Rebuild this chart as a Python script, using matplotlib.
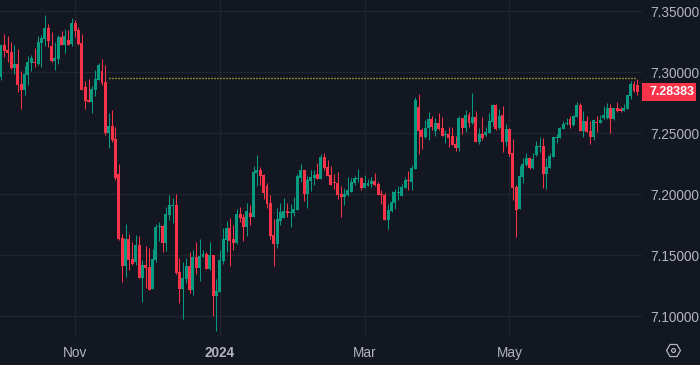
import matplotlib
matplotlib.use("Agg")
import matplotlib.pyplot as plt
from matplotlib.lines import Line2D
from matplotlib.patches import Rectangle

plt.rcParams['font.family'] = ['Liberation Sans', 'DejaVu Sans']

BG = "#131722"
GRID = "#20242e"
UP = "#089981"
DOWN = "#f7334a"
TEXT = "#b2b5be"

opens = [7.2962, 7.3224, 7.3183, 7.3167, 7.3036, 7.3069, 7.2905, 7.2856, 7.2979, 7.3077,
         7.3085, 7.3069, 7.3241, 7.3273, 7.3363, 7.3216, 7.3093, 7.3110, 7.3290, 7.3224,
         7.3265, 7.3232, 7.3404, 7.3347, 7.3241, 7.2880, 7.2774, 7.2757, 7.2856, 7.2938,
         7.3011, 7.2921, 7.2504, 7.2561, 7.2454, 7.2167, 7.1642, 7.1412, 7.1634, 7.1470,
         7.1445, 7.1584, 7.1314, 7.1420, 7.1404, 7.1224, 7.1461, 7.1732, 7.1740, 7.1601,
         7.1830, 7.1904, 7.1912, 7.1363, 7.1224, 7.1306, 7.1412, 7.1216, 7.1486, 7.1396,
         7.1486, 7.1511, 7.1388, 7.1502, 7.1166, 7.1199, 7.1453, 7.1625, 7.1724, 7.1634,
         7.1601, 7.1839, 7.1814, 7.1732, 7.1847, 7.1814, 7.2175, 7.2199, 7.2158, 7.2068,
         7.1929, 7.1666, 7.1593, 7.1781, 7.1806, 7.1863, 7.1847, 7.1847, 7.1871, 7.2134,
         7.2199, 7.2003, 7.2109, 7.2134, 7.2167, 7.2126, 7.2306, 7.2224, 7.2158, 7.2101,
         7.2093, 7.2003, 7.1978, 7.1994, 7.2019, 7.2093, 7.2126, 7.2134, 7.2052, 7.2068,
         7.2085, 7.2109, 7.2085, 7.2003, 7.1994, 7.1789, 7.1863, 7.1929, 7.2011, 7.1986,
         7.2052, 7.2117, 7.2101, 7.2207, 7.2716, 7.2527, 7.2470, 7.2544, 7.2617, 7.2519,
         7.2585, 7.2544, 7.2486, 7.2494, 7.2478, 7.2412, 7.2380, 7.2626, 7.2544, 7.2650,
         7.2585, 7.2634, 7.2429, 7.2494, 7.2486, 7.2503, 7.2593, 7.2732, 7.2544, 7.2650,
         7.2429, 7.2535, 7.2339, 7.2060, 7.1880, 7.2142, 7.2240, 7.2298, 7.2216, 7.2322,
         7.2388, 7.2396, 7.2166, 7.2216, 7.2306, 7.2462, 7.2462, 7.2535, 7.2576, 7.2617,
         7.2568, 7.2634, 7.2732, 7.2519, 7.2601, 7.2519, 7.2470, 7.2593, 7.2585, 7.2626,
         7.2626, 7.2708, 7.2617, 7.2708, 7.2699, 7.2683, 7.2699, 7.2806, 7.2904, 7.2896]
closes = [7.3224, 7.3178, 7.3161, 7.3036, 7.3069, 7.2897, 7.2856, 7.2987, 7.3085, 7.3118,
          7.3077, 7.3249, 7.3281, 7.3363, 7.3257, 7.3093, 7.3118, 7.3290, 7.3224, 7.3298,
          7.3224, 7.3404, 7.3339, 7.3232, 7.2856, 7.2766, 7.2757, 7.2864, 7.2946, 7.3060,
          7.2913, 7.2504, 7.2561, 7.2446, 7.2135, 7.1634, 7.1412, 7.1634, 7.1461, 7.1429,
          7.1584, 7.1314, 7.1420, 7.1396, 7.1216, 7.1470, 7.1732, 7.1738, 7.1601, 7.1839,
          7.1912, 7.1912, 7.1352, 7.1224, 7.1314, 7.1412, 7.1216, 7.1486, 7.1396, 7.1494,
          7.1511, 7.1388, 7.1502, 7.1166, 7.1207, 7.1461, 7.1634, 7.1724, 7.1617, 7.1601,
          7.1839, 7.1806, 7.1732, 7.1863, 7.1814, 7.2183, 7.2199, 7.2150, 7.2011, 7.1921,
          7.1658, 7.1593, 7.1798, 7.1855, 7.1863, 7.1847, 7.1855, 7.1880, 7.2150, 7.2199,
          7.2003, 7.2117, 7.2142, 7.2158, 7.2126, 7.2306, 7.2216, 7.2150, 7.2076, 7.2093,
          7.1994, 7.1978, 7.2003, 7.2035, 7.2101, 7.2134, 7.2134, 7.2052, 7.2093, 7.2093,
          7.2109, 7.2076, 7.1994, 7.1994, 7.1789, 7.1871, 7.1937, 7.2019, 7.2019, 7.2060,
          7.2117, 7.2109, 7.2216, 7.2773, 7.2519, 7.2470, 7.2544, 7.2617, 7.2552, 7.2585,
          7.2535, 7.2478, 7.2494, 7.2462, 7.2404, 7.2380, 7.2626, 7.2544, 7.2650, 7.2585,
          7.2634, 7.2429, 7.2494, 7.2462, 7.2511, 7.2601, 7.2732, 7.2535, 7.2642, 7.2429,
          7.2535, 7.2330, 7.2052, 7.1871, 7.2150, 7.2248, 7.2298, 7.2216, 7.2289, 7.2396,
          7.2396, 7.2166, 7.2224, 7.2314, 7.2470, 7.2470, 7.2544, 7.2576, 7.2585, 7.2568,
          7.2642, 7.2732, 7.2519, 7.2601, 7.2511, 7.2470, 7.2609, 7.2585, 7.2609, 7.2650,
          7.2708, 7.2617, 7.2708, 7.2683, 7.2683, 7.2708, 7.2814, 7.2904, 7.2847, 7.28383]
highs = [7.3232, 7.3314, 7.3298, 7.3249, 7.3224, 7.3191, 7.3011, 7.3052, 7.3134, 7.3142,
         7.3200, 7.3298, 7.3306, 7.3470, 7.3396, 7.3331, 7.3249, 7.3306, 7.3339, 7.3355,
         7.3347, 7.3445, 7.3429, 7.3372, 7.3314, 7.2929, 7.2946, 7.2888, 7.3019, 7.3077,
         7.3110, 7.3060, 7.2667, 7.2692, 7.2553, 7.2249, 7.1675, 7.1757, 7.1675, 7.1609,
         7.1666, 7.1658, 7.1461, 7.1576, 7.1560, 7.1552, 7.1757, 7.1773, 7.1748, 7.1896,
         7.1994, 7.1970, 7.2003, 7.1478, 7.1445, 7.1478, 7.1527, 7.1543, 7.1609, 7.1634,
         7.1543, 7.1527, 7.1609, 7.1502, 7.1306, 7.1543, 7.1724, 7.1781, 7.1806, 7.1748,
         7.1880, 7.1896, 7.1839, 7.1929, 7.1912, 7.2232, 7.2322, 7.2224, 7.2167, 7.2093,
         7.1994, 7.1798, 7.1888, 7.1929, 7.1970, 7.1929, 7.1921, 7.1978, 7.2167, 7.2249,
         7.2199, 7.2150, 7.2199, 7.2199, 7.2257, 7.2331, 7.2339, 7.2281, 7.2232, 7.2167,
         7.2183, 7.2068, 7.2052, 7.2142, 7.2134, 7.2150, 7.2208, 7.2142, 7.2158, 7.2126,
         7.2142, 7.2175, 7.2101, 7.2035, 7.2011, 7.1921, 7.2027, 7.2044, 7.2068, 7.2085,
         7.2142, 7.2191, 7.2240, 7.2798, 7.2822, 7.2544, 7.2609, 7.2675, 7.2642, 7.2626,
         7.2667, 7.2634, 7.2527, 7.2552, 7.2552, 7.2478, 7.2642, 7.2626, 7.2691, 7.2675,
         7.2831, 7.2683, 7.2544, 7.2634, 7.2552, 7.2667, 7.2740, 7.2740, 7.2699, 7.2724,
         7.2576, 7.2544, 7.2453, 7.2076, 7.2232, 7.2298, 7.2339, 7.2306, 7.2339, 7.2437,
         7.2470, 7.2462, 7.2298, 7.2339, 7.2470, 7.2494, 7.2552, 7.2601, 7.2626, 7.2642,
         7.2650, 7.2757, 7.2749, 7.2683, 7.2642, 7.2601, 7.2609, 7.2642, 7.2650, 7.2724,
         7.2749, 7.2740, 7.2708, 7.2757, 7.2716, 7.2740, 7.2814, 7.2929, 7.2929, 7.2945]
lows = [7.2938, 7.3129, 7.3088, 7.3028, 7.2987, 7.2842, 7.2700, 7.2815, 7.2897, 7.3011,
        7.3044, 7.3060, 7.3044, 7.3216, 7.3208, 7.3085, 7.3019, 7.3069, 7.3224, 7.3159,
        7.3224, 7.3216, 7.3290, 7.3224, 7.2856, 7.2700, 7.2757, 7.2667, 7.2807, 7.2938,
        7.2897, 7.2487, 7.2381, 7.2430, 7.2119, 7.1625, 7.1281, 7.1322, 7.1379, 7.1420,
        7.1420, 7.1314, 7.1117, 7.1232, 7.1216, 7.1224, 7.1445, 7.1617, 7.1527, 7.1535,
        7.1789, 7.1765, 7.1347, 7.1109, 7.0978, 7.1273, 7.1191, 7.1175, 7.1347, 7.1289,
        7.1486, 7.1388, 7.1379, 7.1002, 7.0879, 7.1199, 7.1429, 7.1527, 7.1412, 7.1543,
        7.1593, 7.1773, 7.1617, 7.1658, 7.1748, 7.1814, 7.2068, 7.2076, 7.1962, 7.1888,
        7.1634, 7.1412, 7.1560, 7.1748, 7.1806, 7.1814, 7.1732, 7.1822, 7.1871, 7.2101,
        7.1945, 7.1888, 7.2027, 7.2076, 7.2126, 7.2126, 7.2199, 7.2150, 7.2076, 7.2044,
        7.1962, 7.1814, 7.1912, 7.1986, 7.2019, 7.2076, 7.2101, 7.2035, 7.2052, 7.2068,
        7.2060, 7.2068, 7.1994, 7.1921, 7.1789, 7.1716, 7.1855, 7.1880, 7.1953, 7.1986,
        7.2052, 7.2035, 7.2035, 7.2207, 7.2330, 7.2371, 7.2462, 7.2445, 7.2527, 7.2478,
        7.2527, 7.2478, 7.2421, 7.2388, 7.2404, 7.2355, 7.2355, 7.2494, 7.2511, 7.2552,
        7.2576, 7.2429, 7.2412, 7.2445, 7.2478, 7.2503, 7.2560, 7.2527, 7.2535, 7.2347,
        7.2396, 7.2314, 7.1953, 7.1650, 7.1880, 7.2093, 7.2232, 7.2207, 7.2207, 7.2314,
        7.2347, 7.2052, 7.2043, 7.2216, 7.2306, 7.2421, 7.2462, 7.2535, 7.2568, 7.2544,
        7.2560, 7.2634, 7.2519, 7.2470, 7.2511, 7.2412, 7.2445, 7.2511, 7.2585, 7.2617,
        7.2617, 7.2503, 7.2609, 7.2675, 7.2675, 7.2683, 7.2699, 7.2781, 7.2839, 7.2814]

price_ticks = [7.10, 7.15, 7.20, 7.25, 7.30, 7.35]
date_ticks = [22, 65, 108, 151]
date_labels = ["Nov", "2024", "Mar", "May"]
last_high = 7.2950
last_high_from = 32
last_price = 7.28383

fig = plt.figure(figsize=(7, 3.65), dpi=100, facecolor=BG)
ax = fig.add_axes([0, 29 / 365, 642 / 700, 336 / 365], facecolor=BG)

# wicks first, bodies on top
xs = list(range(len(opens)))
colors = [UP if c >= o else DOWN for o, c in zip(opens, closes)]
ax.vlines(xs, lows, highs, colors=colors, linewidth=0.75, zorder=3)
ax.bar(xs, [abs(c - o) for o, c in zip(opens, closes)], bottom=[min(o, c) for o, c in zip(opens, closes)],
       width=0.88, color=colors, linewidth=0, zorder=4)

ax.plot([last_high_from, len(opens) - 1], [last_high, last_high], color="#f7f73a", linewidth=1,
        linestyle=(0, (0.72, 1.44)), zorder=2)

ax.set_xlim(-0.297, 190.38)
ax.set_ylim(7.08385, 7.3593)
ax.set_yticks(price_ticks)
ax.set_yticklabels(["%.5f" % p for p in price_ticks])
ax.yaxis.tick_right()
ax.set_xticks(date_ticks)
ax.set_xticklabels(date_labels)
ax.tick_params(axis="both", length=0, labelcolor=TEXT, labelsize=9.8)
ax.tick_params(axis="y", pad=6)
ax.tick_params(axis="x", pad=7)
ax.get_xticklabels()[1].set_fontweight("bold")
ax.grid(True, color=GRID, linewidth=1)
ax.set_axisbelow(True)
for s in ax.spines.values():
    s.set_visible(False)

# current price tag on the scale
tag_h = 0.0143
ax.add_patch(Rectangle((1.0, last_price - tag_h / 2), 54 / 642, tag_h, transform=ax.get_yaxis_transform(),
                       facecolor=DOWN, edgecolor="none", clip_on=False, zorder=5))
ax.text(1 + 8 / 642, last_price, "%.5f" % last_price, transform=ax.get_yaxis_transform(), color="white",
        fontsize=9, fontweight="bold", va="center", ha="left", zorder=6, clip_on=False)

# settings icon
fig.add_artist(Line2D([673 / 700], [1 - 350 / 365], transform=fig.transFigure, marker="H", markersize=10,
                      markerfacecolor="none", markeredgecolor=TEXT, markeredgewidth=0.9, linestyle="none"))
fig.add_artist(Line2D([673 / 700], [1 - 350 / 365], transform=fig.transFigure, marker="o", markersize=2.8,
                      markerfacecolor="none", markeredgecolor=TEXT, markeredgewidth=0.9, linestyle="none"))

fig.savefig("out.png", dpi=100, facecolor=BG)
